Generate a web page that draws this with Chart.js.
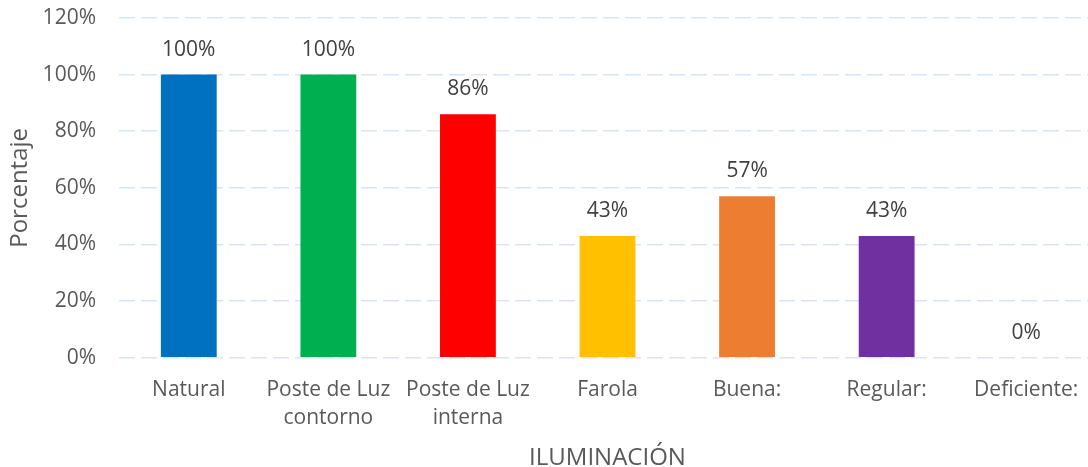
<!DOCTYPE html>
<html>
<head>
<meta charset="utf-8">
<script src="https://cdn.jsdelivr.net/npm/chart.js@4.4.0/dist/chart.umd.min.js"></script>
<style>
html,body{margin:0;padding:0;overflow:hidden;background:#fff;}
#wrap{width:1096px;height:467px;position:relative;}
</style>
</head>
<body>
<div id="wrap"><canvas id="c"></canvas></div>
<script>
const categories = [["Natural"], ["Poste de Luz", "contorno"], ["Poste de Luz", "interna"], ["Farola"], ["Buena:"], ["Regular:"], ["Deficiente:"]];
const values = [100, 100, 86, 43, 57, 43, 0];
const barColors = ["#0070C0", "#00B050", "#FF0000", "#FFC000", "#ED7D31", "#7030A0", "#7F7F7F"];
const yTicks = [0, 20, 40, 60, 80, 100, 120];
const xTitle = "ILUMINACIÓN";
const yTitle = "Porcentaje";

const FONT = "'Open Sans', sans-serif";
const TXT = "#595959";

const labelPlugin = {
  id: 'valueLabels',
  afterDatasetsDraw(chart) {
    const ctx = chart.ctx;
    const meta = chart.getDatasetMeta(0);
    ctx.save();
    ctx.font = "21px " + FONT;
    ctx.fillStyle = "#404040";
    ctx.textAlign = "center";
    ctx.textBaseline = "middle";
    meta.data.forEach((bar, i) => {
      ctx.fillText(values[i] + "%", bar.x, bar.y - 25);
    });
    ctx.restore();
  }
};

new Chart(document.getElementById('c'), {
  type: 'bar',
  data: {
    labels: categories,
    datasets: [{
      data: values,
      backgroundColor: barColors,
      borderWidth: 0,
      categoryPercentage: 1.0,
      barPercentage: 0.4
    }]
  },
  options: {
    responsive: true,
    maintainAspectRatio: false,
    animation: false,
    layout: { padding: { top: 18, left: 8, right: 0, bottom: 0 } },
    plugins: { legend: { display: false }, tooltip: { enabled: false } },
    scales: {
      x: {
        grid: { display: false },
        border: { display: false },
        ticks: { color: TXT, font: { family: FONT, size: 21, lineHeight: 1.33 }, padding: 10, maxRotation: 0, autoSkip: false },
        title: { display: true, text: xTitle, color: TXT, font: { family: FONT, size: 24, lineHeight: 0.7 }, padding: { top: 8.6, bottom: 0 } }
      },
      y: {
        min: 0, max: 120,
        afterBuildTicks(axis) { axis.ticks = yTicks.map(v => ({ value: v })); },
        afterFit(axis) { axis.width = 111; axis.paddingTop = 0; },
        grid: { color: "#DAE5F3", lineWidth: 1.5, drawTicks: false },
        border: { display: false, dash: [16, 6] },
        ticks: { color: TXT, font: { family: FONT, size: 21 }, padding: 23, callback: v => v + "%" },
        title: { display: true, text: yTitle, color: TXT, font: { family: FONT, size: 24, lineHeight: 1.0 }, padding: { top: 0, bottom: 0 } }
      }
    }
  },
  plugins: [labelPlugin]
});
</script>
</body>
</html>
